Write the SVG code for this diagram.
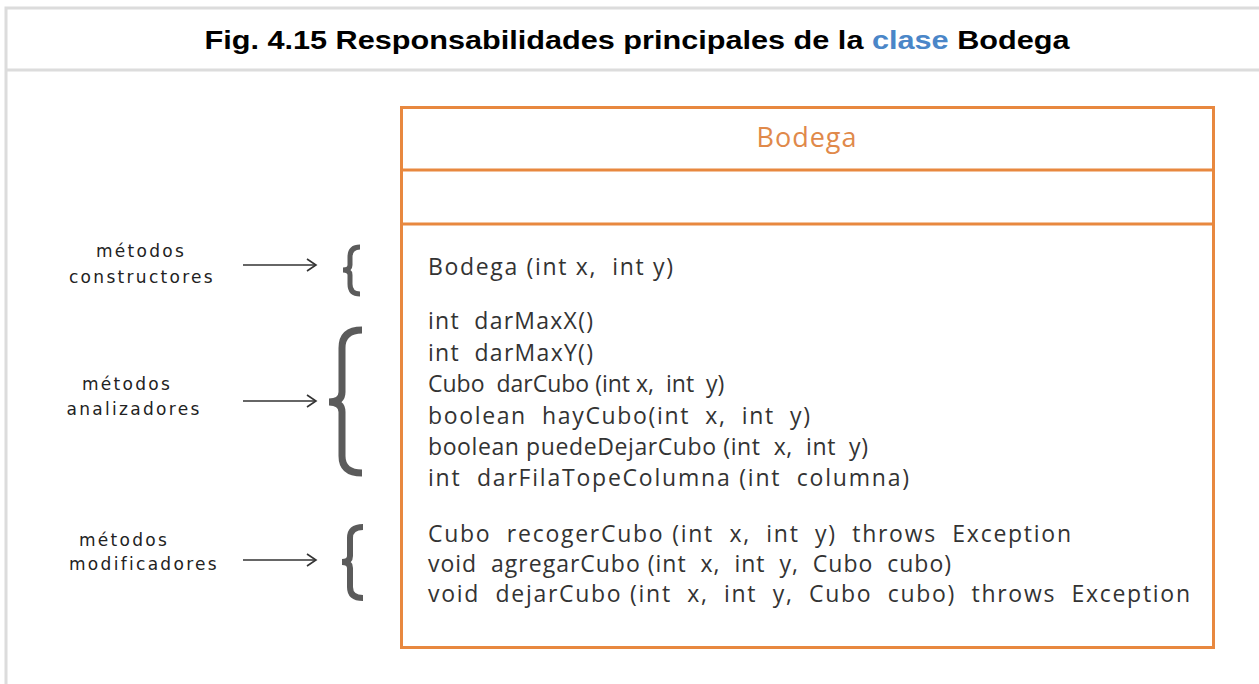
<svg xmlns="http://www.w3.org/2000/svg" width="1259" height="684" viewBox="0 0 1259 684">
<style>
.frame{fill:none;stroke:#dcdcdc;stroke-width:3}
.box{fill:none;stroke:#e8883f;stroke-width:3}
.title{font-family:"Liberation Sans",Arial,sans-serif;font-weight:bold;font-size:26px;fill:#000}
.cls{font-family:"Open Sans","Liberation Sans",sans-serif;font-size:27px;fill:#e0894a;letter-spacing:1px}
.m{font-family:"Open Sans","Liberation Sans",sans-serif;font-size:23px;fill:#333;white-space:pre}
.lbl{font-family:"DejaVu Sans","Liberation Sans",sans-serif;font-size:17px;fill:#222;letter-spacing:2.3px;text-anchor:middle}
.arr{fill:none;stroke:#333;stroke-width:1.6}
.brace{fill:none;stroke:#5b5b5b}
</style>
<defs>
<marker id="ah" markerWidth="14" markerHeight="16" refX="11" refY="7" orient="auto" markerUnits="userSpaceOnUse">
<path d="M2,1 L11,7 L2,13" fill="none" stroke="#333" stroke-width="1.6"/>
</marker>
</defs>
<rect width="1259" height="684" fill="#fff"/>
<g id="frame">
<path class="frame" d="M1262,8 H6 V690"/>
<line class="frame" x1="6" y1="70" x2="1262" y2="70"/>
<text class="title" x="637" y="49" text-anchor="middle" textLength="865" lengthAdjust="spacingAndGlyphs">Fig. 4.15 Responsabilidades principales de la <tspan fill="#4a86c8">clase</tspan> Bodega</text>
</g>
<g id="class-bodega">
<rect class="box" x="401.5" y="107.5" width="812" height="540"/>
<line class="box" x1="401.5" y1="170" x2="1213.5" y2="170"/>
<line class="box" x1="401.5" y1="224" x2="1213.5" y2="224"/>
<text class="cls" x="807" y="147" text-anchor="middle">Bodega</text>
<text class="m" x="428" y="275" textLength="245" lengthAdjust="spacing">Bodega (int x,  int y)</text>
<text class="m" x="428" y="329" textLength="165" lengthAdjust="spacing">int  darMaxX()</text>
<text class="m" x="428" y="361" textLength="165" lengthAdjust="spacing">int  darMaxY()</text>
<text class="m" x="428" y="392">Cubo  darCubo (int x,  int  y)</text>
<text class="m" x="428" y="424" textLength="382" lengthAdjust="spacing">boolean  hayCubo(int  x,  int  y)</text>
<text class="m" x="428" y="455" textLength="440" lengthAdjust="spacing">boolean puedeDejarCubo (int  x,  int  y)</text>
<text class="m" x="428" y="486" textLength="481" lengthAdjust="spacing">int  darFilaTopeColumna (int  columna)</text>
<text class="m" x="428" y="542" textLength="643" lengthAdjust="spacing">Cubo  recogerCubo (int  x,  int  y)  throws  Exception</text>
<text class="m" x="428" y="572" textLength="523" lengthAdjust="spacing">void  agregarCubo (int  x,  int  y,  Cubo  cubo)</text>
<text class="m" x="428" y="602" textLength="762" lengthAdjust="spacing">void  dejarCubo (int  x,  int  y,  Cubo  cubo)  throws  Exception</text>
</g>
<g id="label-constructores">
<text class="lbl" x="141" y="257">métodos</text>
<text class="lbl" x="142" y="283">constructores</text>
</g>
<g id="label-analizadores">
<text class="lbl" x="127" y="390">métodos</text>
<text class="lbl" x="134" y="415">analizadores</text>
</g>
<g id="label-modificadores">
<text class="lbl" x="124" y="546">métodos</text>
<text class="lbl" x="144" y="570">modificadores</text>
</g>
<g id="braces">
<path class="brace" stroke-width="5" d="M360,247 Q350,247 350,257 L350,265 Q350,270 343,270 Q350,270 350,275 L350,284 Q350,294 360,294"/>
<path class="brace" stroke-width="7" d="M362,330 Q342,330 342,348 L342,392 Q342,402 329,402 Q342,402 342,412 L342,456 Q342,473 362,473"/>
<path class="brace" stroke-width="6" d="M363,527 Q350,527 350,538 L350,556 Q350,562 342,562 Q350,562 350,568 L350,587 Q350,598 363,598"/>
</g>
<g id="connectors">
<line class="arr" x1="243" y1="265" x2="316" y2="265" marker-end="url(#ah)"/>
<line class="arr" x1="243" y1="401" x2="316" y2="401" marker-end="url(#ah)"/>
<line class="arr" x1="243" y1="560" x2="316" y2="560" marker-end="url(#ah)"/>
</g>
</svg>
